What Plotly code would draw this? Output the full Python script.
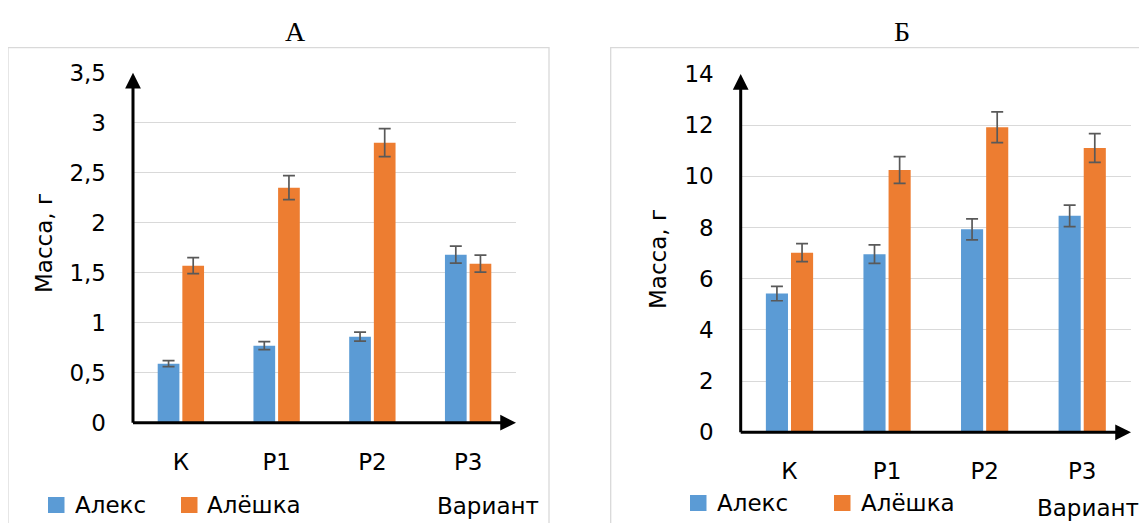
import plotly.graph_objects as go

# ---------------- data ----------------
categories = ["К", "Р1", "Р2", "Р3"]
series_names = ["Алекс", "Алёшка"]

a_aleks = [0.59, 0.77, 0.86, 1.68]
a_aleks_err = [0.03, 0.04, 0.045, 0.085]
a_aleshka = [1.57, 2.35, 2.80, 1.59]
a_aleshka_err = [0.08, 0.12, 0.14, 0.085]

b_aleks = [5.42, 6.96, 7.93, 8.46]
b_aleks_err = [0.28, 0.36, 0.41, 0.42]
b_aleshka = [7.02, 10.25, 11.92, 11.11]
b_aleshka_err = [0.35, 0.52, 0.60, 0.56]

a_ticks = [0, 0.5, 1, 1.5, 2, 2.5, 3, 3.5]
b_ticks = [0, 2, 4, 6, 8, 10, 12, 14]

panel_titles = ["А", "Б"]
y_title = "Масса, г"
x_title = "Вариант"

# ---------------- styling ----------------
OFF = 8                     # page body margin
W, H = 1147 - 2 * OFF, 531 - 2 * OFF
BLUE = "#5b9bd5"
ORANGE = "#ed7d31"
ERR = "#595959"
GRID = "#d9d9d9"
FONT = "DejaVu Sans"
FS = 23


def px(x):
    return (x - OFF) / W


def py(y):
    return 1 - (y - OFF) / H


fig = go.Figure()

panels = [
    dict(xa="x", ya="y", vals=[a_aleks, a_aleshka], errs=[a_aleks_err, a_aleshka_err]),
    dict(xa="x2", ya="y2", vals=[b_aleks, b_aleshka], errs=[b_aleks_err, b_aleshka_err]),
]
colors = [BLUE, ORANGE]
for p in panels:
    for name, v, e, c in zip(series_names, p["vals"], p["errs"], colors):
        fig.add_trace(go.Bar(
            x=categories, y=v, name=name, xaxis=p["xa"], yaxis=p["ya"],
            marker=dict(color=c, line=dict(width=0)),
            error_y=dict(type="data", array=e, visible=True, color=ERR,
                         thickness=1.7, width=6),
            showlegend=False,
        ))

# plot areas (pixels in the window)
L = dict(x0=133, x1=516, y0=72.7, y1=422.7)
R = dict(x0=740.7, x1=1131, y0=74, y1=432.3)

xcommon = dict(type="category", range=[-0.5, 3.5], showgrid=False, zeroline=False,
               showline=False, ticks="", automargin=False,
               tickfont=dict(family=FONT, size=FS, color="#000"),
               ticklabelstandoff=23, fixedrange=True)
ycommon = dict(showgrid=True, gridcolor=GRID, gridwidth=1.3, zeroline=False, showline=False,
               ticks="", automargin=False, tickfont=dict(family=FONT, size=FS, color="#000"),
               ticklabelstandoff=26, fixedrange=True)

fig.update_layout(
    width=W, height=H, autosize=False,
    margin=dict(l=0, r=0, t=0, b=0, pad=0, autoexpand=False),
    paper_bgcolor="white", plot_bgcolor="white",
    separators=", ",
    barmode="group", bargap=0.485, bargroupgap=0.12,
    showlegend=False,
    xaxis=dict(xcommon, domain=[px(L["x0"]), px(L["x1"])], anchor="y"),
    yaxis=dict(ycommon, domain=[py(L["y1"]), py(L["y0"])], range=[0, 3.5],
               tickvals=a_ticks, anchor="x"),
    xaxis2=dict(xcommon, domain=[px(R["x0"]), px(R["x1"])], anchor="y2"),
    yaxis2=dict(ycommon, domain=[py(R["y1"]), py(R["y0"])], range=[0, 14],
                tickvals=b_ticks, anchor="x2"),
)

shapes = []
annotations = []

# panel borders
for x0, x1 in [(8, 549), (610.7, 1160)]:
    shapes.append(dict(type="rect", xref="paper", yref="paper",
                       x0=px(x0), x1=px(x1), y0=py(545), y1=py(47.7),
                       line=dict(color=GRID, width=1.3), fillcolor="rgba(0,0,0,0)",
                       layer="below"))

# axis arrows
for (xa, ya, ymax, P) in [("x", "y", 3.5, L), ("x2", "y2", 14, R)]:
    w = P["x1"] - P["x0"]
    h = P["y1"] - P["y0"]
    annotations.append(dict(xref=f"{xa} domain", yref=ya, x=0, y=ymax,
                            axref="pixel", ayref="pixel", ax=0, ay=h + 1.5,
                            text="", showarrow=True, arrowhead=2, arrowsize=1.05,
                            arrowwidth=3, arrowcolor="#000", standoff=0))
    annotations.append(dict(xref=f"{xa} domain", yref=ya, x=1, y=0,
                            axref="pixel", ayref="pixel", ax=-(w + 1.5), ay=0,
                            text="", showarrow=True, arrowhead=2, arrowsize=1.05,
                            arrowwidth=3, arrowcolor="#000", standoff=0))

# titles
for t, x in zip(panel_titles, [295, 902]):
    annotations.append(dict(xref="paper", yref="paper", x=px(x), y=py(31), text=t,
                            showarrow=False, xanchor="center", yanchor="middle",
                            font=dict(family="Liberation Serif", size=28, color="#000")))

# y axis titles
for x, y in [(44, 243), (658, 259)]:
    annotations.append(dict(xref="paper", yref="paper", x=px(x), y=py(y), text=y_title,
                            textangle=-90, showarrow=False, xanchor="center", yanchor="middle",
                            font=dict(family=FONT, size=FS, color="#000")))

# x axis "Вариант"
for x, y in [(435, 506), (1035, 507.5)]:
    annotations.append(dict(xref="paper", yref="paper", x=px(x), y=py(y), text=x_title,
                            showarrow=False, xanchor="left", yanchor="middle",
                            font=dict(family=FONT, size=FS, color="#000")))

# legends (manual)
legend_items = [
    (48, 72.7, 505, series_names[0], BLUE),
    (181, 205, 505, series_names[1], ORANGE),
    (690, 715, 503, series_names[0], BLUE),
    (834, 858.6, 503, series_names[1], ORANGE),
]
for sx, tx, yc, name, c in legend_items:
    shapes.append(dict(type="rect", xref="paper", yref="paper",
                       x0=px(sx), x1=px(sx + 16.5), y0=py(yc + 8), y1=py(yc - 8),
                       line=dict(width=0), fillcolor=c))
    annotations.append(dict(xref="paper", yref="paper", x=px(tx), y=py(yc), text=name,
                            showarrow=False, xanchor="left", yanchor="middle",
                            font=dict(family=FONT, size=FS, color="#000")))

fig.update_layout(shapes=shapes, annotations=annotations)
fig.write_html("out.html")
